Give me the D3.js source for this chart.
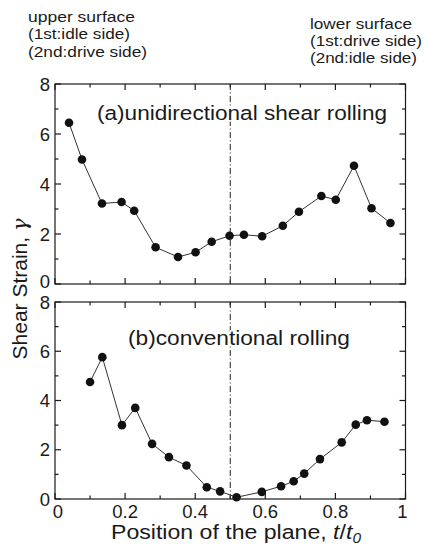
<!DOCTYPE html>
<html>
<head>
<meta charset="utf-8">
<script src="https://cdn.jsdelivr.net/npm/d3@7"></script>
<style>
  body { margin: 0; background: #fff; }
  svg { font-family: "Liberation Sans", Arial, sans-serif; }
</style>
</head>
<body>
<div id="chart"></div>
<script>
// panel (a): unidirectional shear rolling
var posA = [0.04, 0.077, 0.134, 0.19, 0.226, 0.287, 0.351, 0.401, 0.447, 0.498, 0.539, 0.591, 0.650, 0.696, 0.760, 0.801, 0.853, 0.903, 0.957];
var strainA = [6.45, 4.98, 3.22, 3.28, 2.93, 1.47, 1.08, 1.27, 1.69, 1.93, 1.97, 1.91, 2.33, 2.89, 3.52, 3.37, 4.73, 3.03, 2.44];
// panel (b): conventional rolling
var posB = [0.1, 0.135, 0.191, 0.229, 0.277, 0.325, 0.375, 0.433, 0.471, 0.518, 0.590, 0.645, 0.681, 0.711, 0.756, 0.818, 0.858, 0.890, 0.940];
var strainB = [4.75, 5.76, 3.0, 3.7, 2.24, 1.70, 1.36, 0.48, 0.31, 0.07, 0.29, 0.52, 0.72, 1.03, 1.62, 2.30, 3.02, 3.20, 3.14];

var xTicks = [0, 0.2, 0.4, 0.6, 0.8, 1],
    xTickLabels = ['0', '0.2', '0.4', '0.6', '0.8', '1'],
    yTicks = [0, 2, 4, 6, 8];

var width = 424, height = 545,
    left = 55, right = 405.5,
    ink = '#1a1a1a',
    lineColor = '#333';

var svg = d3.select('#chart').append('svg')
    .attr('width', width)
    .attr('height', height);

var x = d3.scaleLinear().domain([0, 1]).range([left, right]);

var panels = [
    { top: 84, bottom: 284, xs: posA, ys: strainA, label: '(a)unidirectional shear rolling', lx: 97, ly: 120, lw: 290, showX: false, zeroShift: -3 },
    { top: 302, bottom: 499, xs: posB, ys: strainB, label: '(b)conventional rolling', lx: 128, ly: 345, lw: 222, showX: true, zeroShift: 0 }
];

panels.forEach(function (p) {
    var y = d3.scaleLinear().domain([0, 8]).range([p.bottom, p.top]);
    var g = svg.append('g');

    // frame
    g.append('rect')
        .attr('x', left).attr('y', p.top)
        .attr('width', right - left).attr('height', p.bottom - p.top)
        .attr('fill', 'none').attr('stroke', ink).attr('stroke-width', 1.2);

    // ticks inward on all four sides
    d3.range(0, 1.001, 0.1).forEach(function (t, i) {
        var len = i % 2 === 0 ? 6 : 3.5;
        g.append('line').attr('x1', x(t)).attr('x2', x(t))
            .attr('y1', p.bottom).attr('y2', p.bottom - len)
            .attr('stroke', ink).attr('stroke-width', 1.2);
        g.append('line').attr('x1', x(t)).attr('x2', x(t))
            .attr('y1', p.top).attr('y2', p.top + len)
            .attr('stroke', ink).attr('stroke-width', 1.2);
    });
    d3.range(0, 8.001, 1).forEach(function (v, i) {
        var len = i % 2 === 0 ? 6 : 3.5;
        g.append('line').attr('x1', left).attr('x2', left + len)
            .attr('y1', y(v)).attr('y2', y(v))
            .attr('stroke', ink).attr('stroke-width', 1.2);
        g.append('line').attr('x1', right).attr('x2', right - len)
            .attr('y1', y(v)).attr('y2', y(v))
            .attr('stroke', ink).attr('stroke-width', 1.2);
    });

    // y tick labels
    g.selectAll('.ylab').data(yTicks).enter().append('text')
        .attr('x', left - 5)
        .attr('y', function (d) { return y(d) + 6.5 + (d === 0 ? p.zeroShift : 0); })
        .attr('text-anchor', 'end')
        .attr('font-size', 18.5)
        .attr('fill', ink)
        .text(function (d) { return d; });

    // x tick labels
    if (p.showX) {
        g.selectAll('.xlab').data(xTicks).enter().append('text')
            .attr('x', function (d) { return x(d) + (d === 0 ? 3 : d === 1 ? -3 : 0); })
            .attr('y', p.bottom + 18.5)
            .attr('text-anchor', 'middle')
            .attr('font-size', 18.5)
            .attr('fill', ink)
            .text(function (d, i) { return xTickLabels[i]; });
    }

    // centre plane
    g.append('line')
        .attr('x1', x(0.5)).attr('x2', x(0.5))
        .attr('y1', p.top).attr('y2', p.bottom)
        .attr('stroke', '#222').attr('stroke-width', 1)
        .attr('stroke-dasharray', '6,2.5,1,2.5');

    // panel title
    g.append('text')
        .attr('x', p.lx).attr('y', p.ly)
        .attr('font-size', 20.5)
        .attr('fill', ink)
        .attr('stroke', '#fff').attr('stroke-width', 3)
        .attr('paint-order', 'stroke')
        .attr('textLength', p.lw)
        .attr('lengthAdjust', 'spacingAndGlyphs')
        .text(p.label);

    var pts = p.xs.map(function (d, i) { return [d, p.ys[i]]; });

    g.append('path')
        .datum(pts)
        .attr('fill', 'none')
        .attr('stroke', lineColor)
        .attr('stroke-width', 1)
        .attr('d', d3.line().x(function (d) { return x(d[0]); }).y(function (d) { return y(d[1]); }));

    g.selectAll('circle').data(pts).enter().append('circle')
        .attr('cx', function (d) { return x(d[0]); })
        .attr('cy', function (d) { return y(d[1]); })
        .attr('r', 4.3)
        .attr('fill', '#111');
});

// side notes
var leftNote = ['upper surface', '(1st:idle side)', '(2nd:drive side)'],
    leftWidth = [107, 102, 119],
    rightNote = ['lower surface', '(1st:drive side)', '(2nd:idle side)'],
    rightWidth = [102, 112, 107];

svg.selectAll('.ln').data(leftNote).enter().append('text')
    .attr('x', 28)
    .attr('y', function (d, i) { return [21.5, 38.5, 57][i]; })
    .attr('font-size', 15)
    .attr('fill', ink)
    .attr('textLength', function (d, i) { return leftWidth[i]; })
    .attr('lengthAdjust', 'spacingAndGlyphs')
    .text(function (d) { return d; });

svg.selectAll('.rn').data(rightNote).enter().append('text')
    .attr('x', 310)
    .attr('y', function (d, i) { return [28.5, 46, 63][i]; })
    .attr('font-size', 15)
    .attr('fill', ink)
    .attr('textLength', function (d, i) { return rightWidth[i]; })
    .attr('lengthAdjust', 'spacingAndGlyphs')
    .text(function (d) { return d; });

// axis titles
svg.append('text')
    .attr('transform', 'translate(27,289) rotate(-90)')
    .attr('text-anchor', 'middle')
    .attr('font-size', 21)
    .attr('fill', ink)
    .html('Shear Strain, <tspan font-family="DejaVu Serif" font-style="italic">γ</tspan>');

svg.append('text')
    .attr('transform', 'translate(236,539) scale(1.1,1)')
    .attr('text-anchor', 'middle')
    .attr('font-size', 21)
    .attr('fill', ink)
    .html('Position of the plane, <tspan font-style="italic">t</tspan>/<tspan font-style="italic">t</tspan><tspan font-style="italic" font-size="14" dy="4">0</tspan>');
</script>
</body>
</html>
